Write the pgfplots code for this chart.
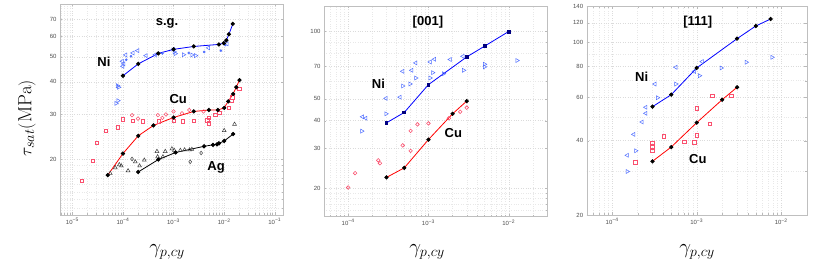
\documentclass[border=0pt]{standalone}
\usepackage{fontspec}
\setsansfont{Liberation Sans}
\usepackage{pgfplots}
\pgfplotsset{compat=1.18}
\definecolor{niblue}{RGB}{0,0,255}
\definecolor{niscat}{RGB}{80,110,255}
\definecolor{cured}{RGB}{255,0,0}
\definecolor{cuscat}{RGB}{250,80,110}
\definecolor{agscat}{RGB}{60,60,60}
\tikzset{lbl/.style={font=\fontsize{13}{13}\selectfont\sffamily\bfseries}}
\pgfplotsset{
  every axis/.append style={scale only axis,
    axis line style={gray!50}, tick style={gray!55},
    grid=both,
    major grid style={gray!28,dotted,line width=0.35pt},
    minor grid style={gray!18,dotted,line width=0.3pt},
    tick label style={font=\fontsize{6}{6}\selectfont\sffamily, text=gray!60!black},
    tick align=inside, major tick length=2.5pt, minor tick length=1.5pt,
    clip=false},
  fitline/.style={line width=0.8pt, mark=*, mark size=1.7pt, mark options={fill=black,draw=black,solid}},
  ltri/.style={only marks, mark=triangle, mark size=2.3pt, mark options={rotate=90, line width=0.5pt}},
  rtri/.style={only marks, mark=triangle, mark size=2.3pt, mark options={rotate=-90, line width=0.5pt}},
}
\begin{document}
\begin{tikzpicture}[x=1pt,y=1pt]
\useasboundingbox (0,0) rectangle (814,267);

% ---------------- panel 1: s.g.
\begin{axis}[xmode=log, ymode=log, at={(60pt,52pt)}, anchor=south west, width=223pt, height=211pt,
  xmin=5.7e-6, xmax=1.45e-1, ymin=12.2, ymax=80,
  xtick={1e-5,1e-4,1e-3,1e-2,1e-1},
  xticklabels={10\textsuperscript{−5},10\textsuperscript{−4},10\textsuperscript{−3},10\textsuperscript{−2},10\textsuperscript{−1}},
  minor xtick={6e-6,7e-6,8e-6,9e-6,2e-5,3e-5,4e-5,5e-5,6e-5,7e-5,8e-5,9e-5,2e-4,3e-4,4e-4,5e-4,6e-4,7e-4,8e-4,9e-4,2e-3,3e-3,4e-3,5e-3,6e-3,7e-3,8e-3,9e-3,2e-2,3e-2,4e-2,5e-2,6e-2,7e-2,8e-2,9e-2},
  ytick={20,30,40,50,60,70}, yticklabels={20,30,40,50,60,70},
  minor ytick={13,14,15,16,17,18,19,80}]
% Ni scatter
\addplot[ltri, color=niscat] coordinates {(9.7e-5,48.0)(1.03e-4,46.9)(9.9e-5,45.9)(1.13e-4,50.8)(1.57e-4,51.7)(1.95e-4,52.8)(2.85e-4,50.5)(4.35e-4,50.9)(9.8e-4,53.4)(4.9e-3,54.1)(1.13e-2,56.1)};
\addplot[rtri, color=niscat] coordinates {(7.85e-5,38.6)(8.2e-5,38.1)(7.3e-5,33.0)(7.96e-5,33.8)(1.03e-3,52.2)(1.08e-3,51.4)(1.57e-3,50.9)(2.3e-3,50.8)(2.72e-3,50.5)};
\addplot[only marks, mark=*, mark size=1.1pt, color=niscat] coordinates {(1.16e-4,48.7)(1.44e-4,50.2)(6e-4,51.5)(2e-3,51.7)(4.03e-3,52.2)(8.6e-3,52.8)(1.05e-2,55.5)};
% Cu scatter
\addplot[only marks, mark=square, mark size=1.7pt, color=cuscat, mark options={line width=0.5pt}] coordinates {(1.53e-5,16.6)(2.56e-5,19.8)(3.0e-5,23.2)(4.55e-5,25.9)(7.85e-5,26.7)(1e-4,28.6)(1.57e-4,28.3)(2.48e-4,28.1)(5.06e-4,28.1)(1e-3,28.2)(1.53e-3,28.1)(2.5e-3,28.2)(4.6e-3,28.4)(5e-3,29.1)(5e-3,27.6)(6.6e-3,29.8)(8e-3,30.3)(1.23e-2,31.7)(1.37e-2,33.7)(1.45e-2,34.8)(2e-2,37.6)};
\addplot[only marks, mark=o, mark size=1.8pt, color=cuscat, mark options={line width=0.5pt}] coordinates {(1.51e-4,29.7)(1.98e-4,28.8)(4.9e-4,29.7)(6e-4,29.0)(7.06e-4,29.9)(1e-3,30.7)(1.46e-3,30.2)(2.04e-3,31.1)(3.9e-3,30.7)};
% Ag scatter
\addplot[only marks, mark=triangle, mark size=2.2pt, color=agscat, mark options={line width=0.5pt}] coordinates {(5.6e-5,17.7)(7.06e-5,18.6)(8.47e-5,19.1)(9.27e-5,18.9)(1.26e-4,18.1)(1.75e-4,19.6)(2.13e-4,18.9)(2.64e-4,19.9)(4.69e-4,21.5)(4.83e-4,20.5)(6.15e-4,20.5)(6.85e-4,21.5)(9.27e-4,22.0)(1.03e-3,21.7)(1.36e-3,21.7)(1.65e-3,21.8)(2.07e-3,21.8)(2.3e-3,21.9)(1e-2,25.9)(1.6e-2,27.4)};
\addplot[only marks, mark=diamond, mark size=1.9pt, color=agscat, mark options={line width=0.5pt}] coordinates {(1.51e-4,20.1)(2.13e-3,19.6)(3.5e-3,21.2)};
% fit lines
\addplot[fitline, color=niblue] coordinates {(1e-4,42.2)(2e-4,46.9)(5e-4,51.5)(1e-3,53.4)(2.5e-3,54.8)(7.85e-3,55.8)(9.8e-3,56.4)(1.1e-2,57.9)(1.24e-2,61.1)(1.48e-2,67.0)};
\addplot[fitline, color=cured] coordinates {(5e-5,17.4)(1e-4,21.1)(2e-4,24.7)(4e-4,27.1)(1e-3,29.1)(2.5e-3,30.7)(5e-3,31.1)(7.5e-3,31.1)(1e-2,31.7)(1.2e-2,33.6)(1.5e-2,35.9)(1.73e-2,38.1)(2e-2,40.6)};
\addplot[fitline, color=black] coordinates {(2e-4,17.9)(5e-4,20.0)(1.1e-3,21.3)(4e-3,22.5)(6e-3,22.8)(7.2e-3,22.9)(7.85e-3,23.1)(1e-2,23.6)(1.5e-2,25.1)};
\node[lbl] at (rel axis cs:0.48,0.91) {s.g.};
\node[lbl] at (rel axis cs:0.197,0.725) {Ni};
\node[lbl] at (rel axis cs:0.53,0.55) {Cu};
\node[lbl] at (rel axis cs:0.70,0.227) {Ag};
\end{axis}

% ---------------- panel 2: [001]
\begin{axis}[xmode=log, ymode=log, at={(324pt,51pt)}, anchor=south west, width=223pt, height=210pt,
  xmin=5e-5, xmax=3e-2, ymin=15, ymax=130,
  xtick={1e-4,1e-3,1e-2},
  xticklabels={10\textsuperscript{−4},10\textsuperscript{−3},10\textsuperscript{−2}},
  minor xtick={6e-5,7e-5,8e-5,9e-5,2e-4,3e-4,4e-4,5e-4,6e-4,7e-4,8e-4,9e-4,2e-3,3e-3,4e-3,5e-3,6e-3,7e-3,8e-3,9e-3,2e-2},
  ytick={20,30,40,50,70,100}, yticklabels={20,30,40,50,70,100},
  minor ytick={16,17,18,19,60,80,90}]
\addplot[ltri, color=niscat] coordinates {(1.51e-4,41.6)(1.66e-4,41.0)(2.96e-4,50.3)(4.43e-4,50.9)(4.78e-4,66.4)(6.19e-4,67.1)(6.95e-4,72.4)(1.05e-3,73.1)(1.19e-3,75.2)(1.87e-3,75.0)(2.69e-3,77.5)};
\addplot[rtri, color=niscat] coordinates {(1.48e-4,35.9)(2.96e-4,42.9)(4.78e-4,57.1)(5.9e-4,58.3)(6.95e-4,62.0)(1.05e-3,62.0)(1.13e-3,65.5)(1.54e-3,64.8)(2.74e-3,67.1)(5.0e-3,71.4)(5.0e-3,69.5)(1.27e-2,74.2)};
\addplot[only marks, mark=o, mark size=1.8pt, color=cuscat, mark options={line width=0.6pt}] coordinates {(1e-4,20.1)(1.22e-4,23.3)(2.37e-4,26.6)(2.49e-4,25.8)(4.78e-4,31.0)(6.0e-4,29.3)(6.0e-4,36.0)(7.3e-4,38.5)(1e-3,38.9)(1.8e-3,41.0)(2.49e-3,43.8)(3e-3,45.7)};
\addplot[line width=0.8pt, color=niblue, mark=square*, mark size=1.4pt, mark options={fill=blue!50!black, draw=blue!50!black}] coordinates {(3e-4,39.1)(5e-4,43.5)(1e-3,57.9)(3e-3,77.0)(5e-3,86.0)(1e-2,100)};
\addplot[fitline, color=cured] coordinates {(3e-4,22.3)(5e-4,24.6)(1e-3,32.9)(2e-3,42.9)(3e-3,48.9)};
\node[lbl] at (rel axis cs:0.466,0.924) {[001]};
\node[lbl] at (rel axis cs:0.244,0.631) {Ni};
\node[lbl] at (rel axis cs:0.58,0.393) {Cu};
\end{axis}

% ---------------- panel 3: [111]
\begin{axis}[xmode=log, ymode=log, at={(586.7pt,52pt)}, anchor=south west, width=220pt, height=208.7pt,
  xmin=5e-5, xmax=2e-2, ymin=20, ymax=140,
  xtick={1e-4,1e-3,1e-2},
  xticklabels={10\textsuperscript{−4},10\textsuperscript{−3},10\textsuperscript{−2}},
  minor xtick={6e-5,7e-5,8e-5,9e-5,2e-4,3e-4,4e-4,5e-4,6e-4,7e-4,8e-4,9e-4,2e-3,3e-3,4e-3,5e-3,6e-3,7e-3,8e-3,9e-3},
  ytick={20,40,60,80,100,120,140}, yticklabels={20,40,60,80,100,120,140},
  minor ytick={30,50,70,90}]
\addplot[ltri, color=niscat] coordinates {(1.51e-4,34.9)(1.8e-4,42.4)(2.26e-4,47.6)(2.5e-4,51.6)(2.5e-4,54.6)(3.2e-4,67.8)(5.67e-4,79.3)(9.38e-4,76.3)(1.16e-3,83.6)};
\addplot[rtri, color=niscat] coordinates {(1.51e-4,30.0)(1.9e-4,36.4)(3.44e-4,59.7)(5.67e-4,67.8)(1.08e-3,73.3)(1.95e-3,78.8)(3.86e-3,83.1)(7.78e-3,87.0)};
\addplot[only marks, mark=square, mark size=1.7pt, color=cuscat, mark options={line width=0.6pt}] coordinates {(1.87e-4,32.7)(3.0e-4,39.3)(3e-4,37.7)(3e-4,36.3)(4.09e-4,41.7)(7.13e-4,39.6)(9.4e-4,39.4)(1e-3,54.1)(1e-3,42.0)(1.44e-3,46.9)(1.53e-3,60.9)(2.56e-3,60.9)};
\addplot[fitline, color=niblue] coordinates {(3e-4,54.9)(5e-4,61.4)(1e-3,78.8)(3e-3,103.5)(5e-3,116.5)(7.5e-3,124.4)};
\addplot[fitline, color=cured] coordinates {(3e-4,33.0)(5e-4,37.7)(1e-3,47.3)(2e-3,58.6)(3e-3,65.8)};
\node[lbl] at (rel axis cs:0.505,0.926) {[111]};
\node[lbl] at (rel axis cs:0.25,0.66) {Ni};
\node[lbl] at (rel axis cs:0.505,0.27) {Cu};
\end{axis}

% labels
\node[rotate=90, font=\fontsize{19}{19}\selectfont] at (27,149) {$\tau_{sat}(\mathrm{MPa})$};
\node[font=\fontsize{22}{22}\selectfont] at (167,15) {$\gamma_{p,cy}$};
\node[font=\fontsize{22}{22}\selectfont] at (427,15) {$\gamma_{p,cy}$};
\node[font=\fontsize{22}{22}\selectfont] at (697,15) {$\gamma_{p,cy}$};
\end{tikzpicture}
\end{document}
